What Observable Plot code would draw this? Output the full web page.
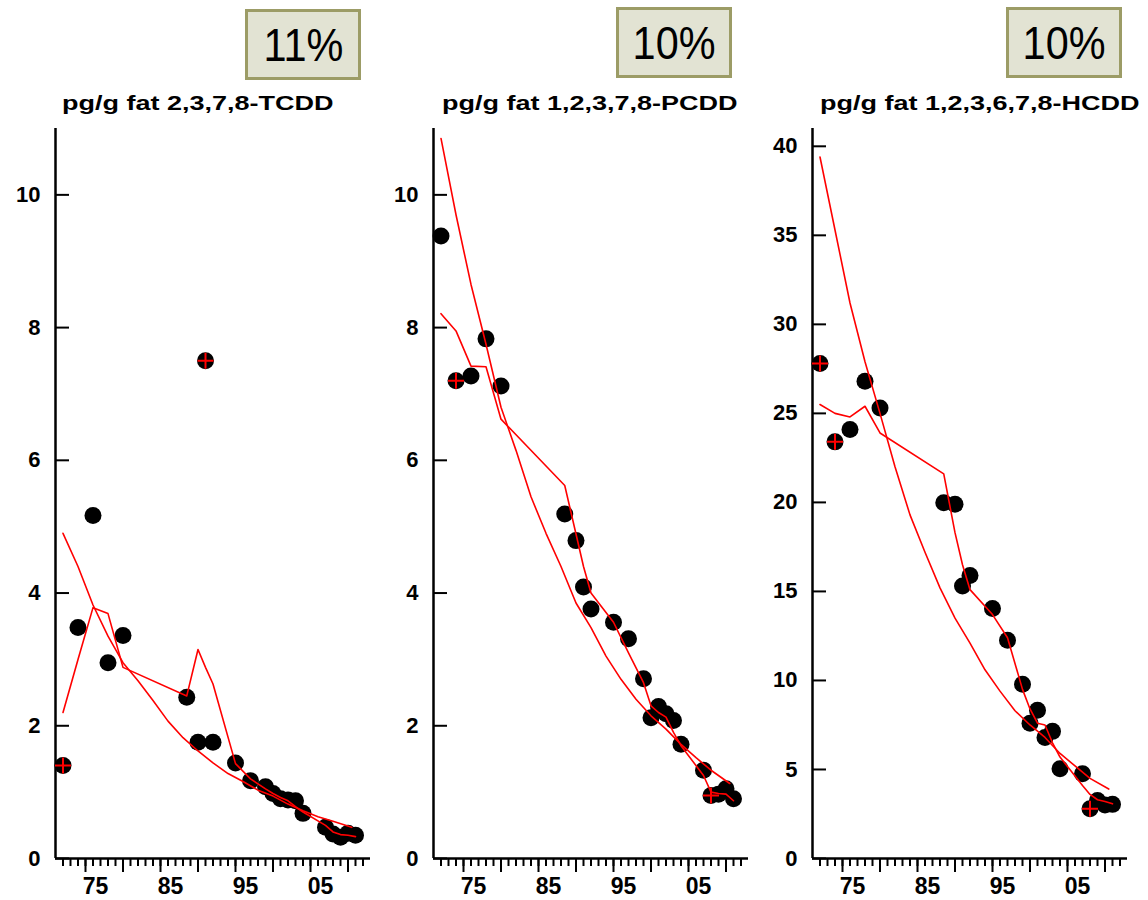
<!DOCTYPE html>
<html><head><meta charset="utf-8">
<script src="https://cdn.jsdelivr.net/npm/d3@7"></script>
<script src="https://cdn.jsdelivr.net/npm/@observablehq/plot@0.6"></script>
<style>
body{margin:0;background:#fff;}
#chart{position:relative;width:1148px;height:900px;font-family:"Liberation Sans",Arial,sans-serif;color:#000;}
.panel{position:absolute;top:0;width:380px;height:900px;}
.title{position:absolute;top:93px;font-size:20px;font-weight:bold;line-height:20px;white-space:nowrap;transform:scaleX(1.35);transform-origin:0 0;}
.badge{position:absolute;box-sizing:border-box;width:116px;height:71px;background:#e2e3d3;border:3px solid #9c9c66;display:flex;align-items:center;justify-content:center;}
.badge span{font-size:46px;transform:scaleX(0.9);display:inline-block;line-height:1;}
</style></head><body><div id="chart"></div>
<script>
// sample years (shared by the three panels)
const years = [1972,1974,1976,1978,1980,1988.5,1990,1991,1992,1995,1997,1999,2000,2001,2002,2003,2004,2007,2008,2009,2010,2011];
// measured concentrations, pg/g fat
const tcddValues = [1.4,3.48,5.17,2.95,3.36,2.43,1.75,7.5,1.75,1.44,1.17,1.08,0.98,0.9,0.88,0.87,0.68,0.47,0.37,0.32,0.38,0.35];
const pcddValues = [9.38,7.2,7.27,7.83,7.12,5.19,4.79,4.09,3.76,3.56,3.31,2.71,2.12,2.29,2.18,2.08,1.72,1.33,0.95,0.97,1.05,0.9];
const hcddValues = [27.8,23.4,24.1,26.8,25.3,19.98,19.9,15.3,15.9,14.04,12.26,9.79,7.6,8.32,6.8,7.14,5.04,4.76,2.8,3.26,3.0,3.04];
// jagged smoother, at sample years
const tcddTrend = [2.2,3.0,3.78,3.69,2.88,2.45,3.15,2.88,2.63,1.43,1.2,1.05,0.98,0.92,0.87,0.78,0.7,0.5,0.4,0.36,0.35,0.33];
const pcddTrend = [8.21,7.95,7.42,7.41,6.62,5.62,4.89,4.4,4.0,3.56,3.1,2.65,2.3,2.2,2.13,1.9,1.7,1.25,1.0,0.98,0.97,0.87];
const hcddTrend = [25.5,25.0,24.8,25.4,23.9,21.6,18.3,16.5,15.1,13.7,12.4,9.5,8.4,7.6,7.5,6.5,5.7,4.1,3.6,3.3,3.2,3.07];
// fitted decline curve
const fitYears = [1972,1974,1976,1978,1980,1982,1984,1986,1988,1990,1992,1994,1996,1998,2000,2002,2004,2006,2008,2010.5];
const tcddFit = [4.9,4.4,3.82,3.35,2.95,2.68,2.38,2.07,1.82,1.62,1.44,1.28,1.16,1.03,0.94,0.82,0.72,0.63,0.56,0.47];
const pcddFit = [10.85,9.7,8.65,7.75,6.8,6.15,5.45,4.9,4.4,3.85,3.48,3.05,2.7,2.4,2.15,1.95,1.72,1.52,1.33,1.13];
const hcddFit = [39.4,35.3,31.2,27.9,25.0,22.0,19.3,17.2,15.2,13.5,12.1,10.6,9.4,8.3,7.5,6.8,5.9,5.2,4.5,3.9];
// flagged samples (red cross)
const tcddFlagged = [1972,1991];
const pcddFlagged = [1974,2008];
const hcddFlagged = [1972,1974,2008];
// titles, percentages, ticks
const titles = ["pg/g fat 2,3,7,8-TCDD","pg/g fat 1,2,3,7,8-PCDD","pg/g fat 1,2,3,6,7,8-HCDD"];
const percents = ["11%","10%","10%"];
const yTicksSmall = [0,2,4,6,8,10];
const yTicksLarge = [0,5,10,15,20,25,30,35,40];
const minorYears = d3.range(1972, 2013);
const majorYears = [1975,1980,1985,1990,1995,2000,2005,2010];
const labelYears = [1975,1985,1995,2005];

const panels = [
  {values:tcddValues, trend:tcddTrend, fit:tcddFit, flagged:tcddFlagged, yMax:11, yTicks:yTicksSmall, left:0, titleLeft:62, badge:[245,9]},
  {values:pcddValues, trend:pcddTrend, fit:pcddFit, flagged:pcddFlagged, yMax:11, yTicks:yTicksSmall, left:378, titleLeft:442, badge:[616,7]},
  {values:hcddValues, trend:hcddTrend, fit:hcddFit, flagged:hcddFlagged, yMax:41, yTicks:yTicksLarge, left:757, titleLeft:820, badge:[1006,7]}
];

// frame geometry of each panel
const W = 380, H = 900, mL = 55, mR = 10, mT = 128, mB = 42;
const frameW = W - mL - mR, frameH = H - mT - mB;

const thinPlus = {draw(ctx, size){const r = Math.sqrt(size/Math.PI); ctx.moveTo(-r,0); ctx.lineTo(r,0); ctx.moveTo(0,-r); ctx.lineTo(0,r);}};
const font = '"Liberation Sans", Arial, sans-serif';
const chart = document.getElementById("chart");

panels.forEach((p, k) => {
  const pts = years.map((y,i) => ({year:y, value:p.values[i]}));
  const flagged = pts.filter(d => p.flagged.includes(d.year));
  const trend = years.map((y,i) => ({year:y, value:p.trend[i]}));
  const fit = fitYears.map((y,i) => ({year:y, value:p.fit[i]}));
  const svg = Plot.plot({
    width:W, height:H, marginLeft:mL, marginRight:mR, marginTop:mT, marginBottom:mB,
    style:{fontFamily:font, color:"#000", background:"transparent", overflow:"visible"},
    x:{domain:[1971,2013], label:null},
    y:{domain:[0,p.yMax], label:null},
    marks:[
      Plot.axisY(p.yTicks, {tickSize:0, tickPadding:15, tickFormat:d=>String(d), fontSize:22, fontWeight:"bold"}),
      // inward y ticks, outward x ticks
      Plot.ruleY(p.yTicks, {y:d=>d, insetRight:frameW - 14, stroke:"#000", strokeWidth:2}),
      Plot.ruleX(minorYears, {x:d=>d, insetTop:frameH, insetBottom:-8, stroke:"#000", strokeWidth:2}),
      Plot.ruleX(majorYears, {x:d=>d, insetTop:frameH, insetBottom:-14, stroke:"#000", strokeWidth:2}),
      Plot.axisX(labelYears, {tickSize:0, tickPadding:19, tickFormat:d=>String(d).slice(2), fontSize:23, fontWeight:"bold", dx:10}),
      Plot.ruleX([1971], {stroke:"#000", strokeWidth:2.5}),
      Plot.ruleY([0], {stroke:"#000", strokeWidth:2.5}),
      Plot.dot(pts, {x:"year", y:"value", r:8.5, fill:"#000", stroke:"none"}),
      Plot.line(fit, {x:"year", y:"value", stroke:"#ff0000", strokeWidth:1.6}),
      Plot.line(trend, {x:"year", y:"value", stroke:"#ff0000", strokeWidth:1.6}),
      Plot.dot(flagged, {x:"year", y:"value", symbol:thinPlus, r:8, fill:"none", stroke:"#ff0000", strokeWidth:2})
    ]
  });
  const wrap = document.createElement("div");
  wrap.className = "panel";
  wrap.style.left = p.left + "px";
  wrap.appendChild(svg);
  chart.appendChild(wrap);

  const t = document.createElement("div");
  t.className = "title";
  t.style.left = p.titleLeft + "px";
  t.textContent = titles[k];
  chart.appendChild(t);

  const b = document.createElement("div");
  b.className = "badge";
  b.style.left = p.badge[0] + "px";
  b.style.top = p.badge[1] + "px";
  const s = document.createElement("span");
  s.textContent = percents[k];
  b.appendChild(s);
  chart.appendChild(b);
});
</script>
</body></html>
